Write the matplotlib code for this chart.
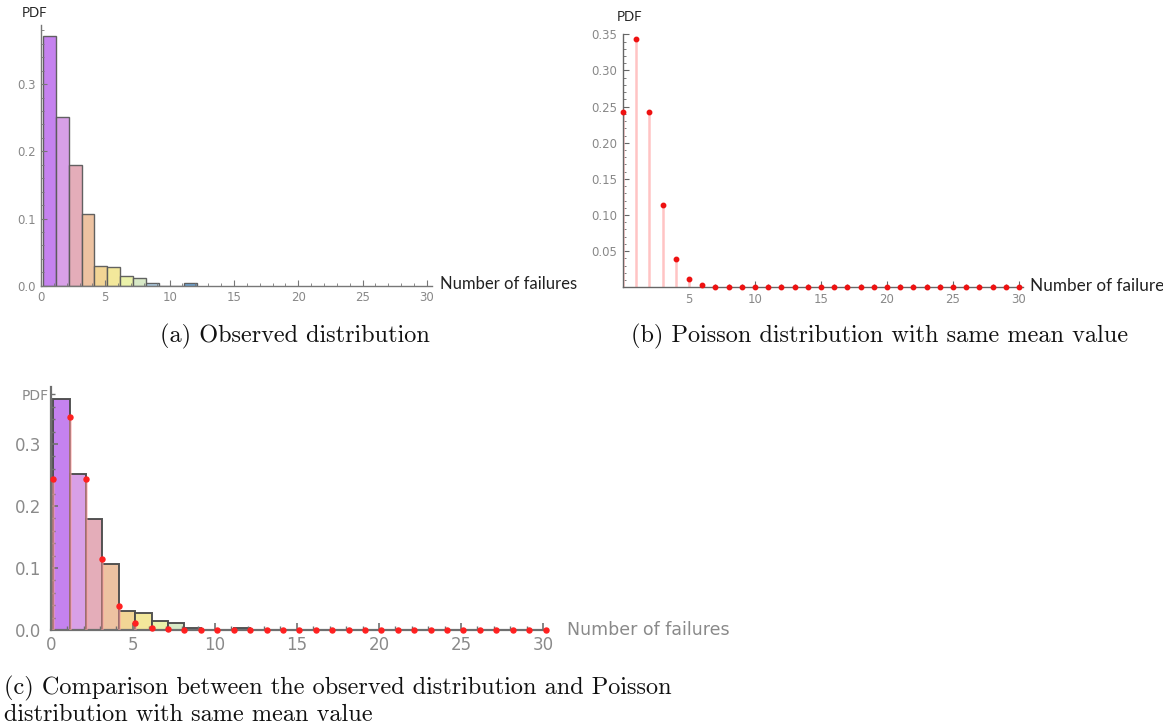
import numpy as np
import matplotlib
matplotlib.use("Agg")
import matplotlib.pyplot as plt
from matplotlib.ticker import MultipleLocator

# observed failure-count frequencies (bins of width 1, starting at 0)
failures = np.arange(12)
observed_pdf = [0.372, 0.251, 0.179, 0.106, 0.030, 0.028, 0.014, 0.0115, 0.004, 0.0, 0.0, 0.004]
bar_colors = ["#c27bef", "#d69be6", "#e3a9b5", "#ecbf9c", "#f2d38f", "#f3e796",
              "#eaf2a6", "#d6e8c4", "#aecfe6", "#ffffff", "#ffffff", "#6aa3d6"]

# Poisson pmf with the same mean, k = 0..30
k_values = np.arange(31)
poisson_pdf = [0.243, 0.343, 0.243, 0.114, 0.039, 0.011, 0.003, 0.001, 0.0, 0.0,
               0.0, 0.0, 0.0, 0.0, 0.0, 0.0, 0.0, 0.0, 0.0, 0.0,
               0.0, 0.0, 0.0, 0.0, 0.0, 0.0, 0.0, 0.0, 0.0, 0.0, 0.0]

W, H = 1163, 728
fig = plt.figure(figsize=(W / 100, H / 100), dpi=100)


def px_axes(left, top, right, bottom):
    return fig.add_axes([left / W, 1 - bottom / H, (right - left) / W, (bottom - top) / H])


def style_axes(ax, axcol, lw, tickcol, tsize, pad=3):
    for s in ("top", "right"):
        ax.spines[s].set_visible(False)
    for s in ("left", "bottom"):
        ax.spines[s].set_color(axcol)
        ax.spines[s].set_linewidth(lw)
    ax.tick_params(which="major", direction="in", length=4, width=0.8, color=axcol,
                   labelsize=tsize, labelcolor=tickcol, pad=pad)
    ax.tick_params(which="minor", direction="in", length=2.2, width=0.6, color=axcol)
    ax.xaxis.set_major_locator(MultipleLocator(5))
    ax.xaxis.set_minor_locator(MultipleLocator(1))
    ax.patch.set_alpha(0)


offset = 0.15
label_font = ["Lato", "DejaVu Sans"]

# (a) observed histogram
ax1 = px_axes(41, 25, 432, 285.7)
ax1.bar(failures + offset, observed_pdf, width=1, align="edge", color=bar_colors,
        edgecolor="#5a5a5a", linewidth=1.0, alpha=0.95)
ax1.set_xlim(0, 30.4)
ax1.set_ylim(0, 0.388)
style_axes(ax1, "#777777", 1.0, "#888888", 8.5, pad=4)
ax1.yaxis.set_minor_locator(MultipleLocator(0.02))
ax1.set_yticks([0, 0.1, 0.2, 0.3])
ax1.set_yticklabels(["0.0", "0.1", "0.2", "0.3"])
fig.text(440 / W, 1 - 284 / H, "Number of failures", fontsize=12, family=label_font,
         color="#222222", va="center", ha="left")
fig.text(22 / W, 1 - 13 / H, "PDF", fontsize=9.5, family=label_font,
         color="#222222", va="center", ha="left")

# (b) Poisson stem plot
ax2 = px_axes(623, 34.3, 1023, 287.3)
ax2.vlines(k_values, 0, poisson_pdf, color="#ffc4c4", linewidth=1.8)
ax2.plot(k_values, poisson_pdf, "o", color="#ee1111", markersize=3.2, clip_on=False, zorder=3)
ax2.set_xlim(0, 30.3)
ax2.set_ylim(0, 0.35)
style_axes(ax2, "#666666", 1.0, "#888888", 8.5, pad=4)
ax2.yaxis.set_minor_locator(MultipleLocator(0.01))
ax2.set_yticks([0.05, 0.10, 0.15, 0.20, 0.25, 0.30, 0.35])
ax2.set_yticklabels(["0.05", "0.10", "0.15", "0.20", "0.25", "0.30", "0.35"])
ax2.set_xticks([5, 10, 15, 20, 25, 30])
fig.text(1030 / W, 1 - 286 / H, "Number of failure", fontsize=12.3, family=label_font,
         color="#222222", va="center", ha="left")
fig.text(617 / W, 1 - 17 / H, "PDF", fontsize=9.5, family=label_font,
         color="#222222", va="center", ha="left")

# (c) histogram with the Poisson points on top
ax3 = px_axes(50.7, 387, 548, 630)
ax3.bar(failures + offset, observed_pdf, width=1, align="edge", color=bar_colors,
        edgecolor="#4a4a4a", linewidth=1.4, alpha=0.95)
ax3.vlines(k_values + offset, 0, poisson_pdf, color="#ff9c9c", linewidth=1.8, alpha=0.6, zorder=3)
ax3.plot(k_values + offset, poisson_pdf, "o", color="#ff2020", markersize=3.6,
         clip_on=False, zorder=4)
ax3.set_xlim(0, 30.3)
ax3.set_ylim(0, 0.392)
style_axes(ax3, "#6f6f6f", 1.6, "#8a8a8a", 12, pad=7)
ax3.tick_params(which="major", length=5, width=1.2)
ax3.tick_params(which="minor", length=3, width=1.0)
ax3.yaxis.set_minor_locator(MultipleLocator(0.02))
ax3.set_yticks([0, 0.1, 0.2, 0.3])
ax3.set_yticklabels(["0.0", "0.1", "0.2", "0.3"])
ax3.tick_params(axis="x", pad=4)
fig.text(567 / W, 1 - 630 / H, "Number of failures", fontsize=12.5, family="DejaVu Sans",
         color="#8a8a8a", va="center", ha="left")
fig.text(22 / W, 1 - 396 / H, "PDF", fontsize=10, family="DejaVu Sans",
         color="#8a8a8a", va="center", ha="left")

# captions
cap = dict(fontsize=17.5, family="cmr10", color="#111111")
fig.text(295 / W, 1 - 336 / H, "(a) Observed distribution", ha="center", va="center", **cap)
fig.text(880 / W, 1 - 336 / H, "(b) Poisson distribution with same mean value",
         ha="center", va="center", **cap)
fig.text(4 / W, 1 - 688 / H, "(c) Comparison between the observed distribution and Poisson",
         ha="left", va="center", **cap)
fig.text(4 / W, 1 - 715 / H, "distribution with same mean value",
         ha="left", va="center", **cap)

fig.savefig("out.png", dpi=100)
